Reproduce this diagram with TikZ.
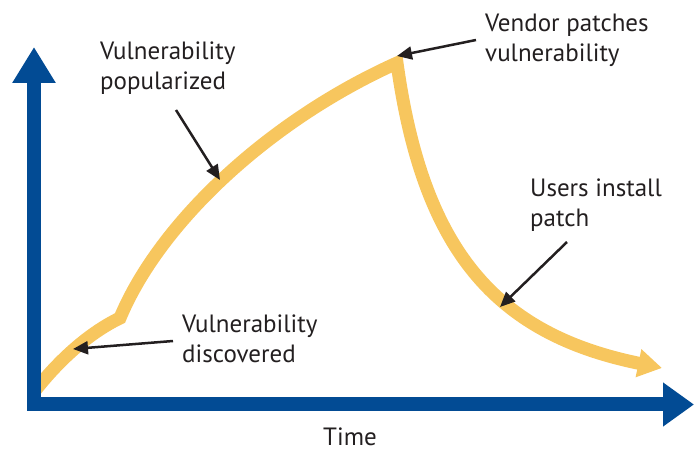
\documentclass[tikz,border=0pt]{standalone}
\usepackage{fontspec}
\setmainfont{PT Sans}
\usetikzlibrary{arrows.meta}
\definecolor{axisblue}{RGB}{2,75,148}
\definecolor{curveyellow}{RGB}{247,198,94}
\definecolor{txt}{RGB}{35,31,32}
\begin{document}
\begin{tikzpicture}[x=1pt,y=-1pt,
 lbl/.style={font=\fontsize{25}{30}\selectfont, text=txt, align=left, anchor=base west, inner sep=0pt},
 pointer/.style={draw=txt, line width=2.5pt, -{Triangle[length=15pt,width=13pt]}},
 axis/.style={draw=axisblue, line width=14pt, line join=miter, {Triangle[length=36pt,width=41pt]}-{Triangle[length=31pt,width=42pt]}},
 trend/.style={draw=curveyellow, line width=13pt, line join=miter, -{Triangle[length=24pt,width=27pt]}}]
\useasboundingbox (0,0) rectangle (694,454);

% trend curve
\coordinate (c0) at (34,392);
\coordinate (kink) at (120,318);
\coordinate (peak) at (397,63);
\coordinate (cend) at (662,368);
\draw[trend] (c0) .. controls (55,365) and (85,335) .. (kink)
  .. controls (160,222) and (270,120) .. (peak)
  .. controls (423,250) and (495,334) .. (cend);

% axes
\coordinate (ytop) at (34,47);
\coordinate (origin) at (34,404.5);
\coordinate (xend) at (694,404.5);
\draw[axis] (ytop) -- (origin) -- (xend);

% labels (base anchor = baseline of the last line)
\node[lbl] (pop) at (100,90) {Vulnerability\\popularized};
\node[lbl] (disc) at (182,363) {Vulnerability\\discovered};
\node[lbl] (vend) at (485,62) {Vendor patches\\vulnerability};
\node[lbl] (users) at (530,227) {Users install\\patch};
\node[font=\fontsize{25}{30}\selectfont, text=txt, anchor=base, inner sep=0pt] (time) at (350,446) {Time};

% pointers
\coordinate (popS) at (176,110);
\coordinate (popT) at (220,180);
\coordinate (discS) at (173,341);
\coordinate (discT) at (73,349);
\coordinate (vendS) at (476,40);
\coordinate (vendT) at (397,56);
\coordinate (usersS) at (567,242);
\coordinate (usersT) at (500,307);
\draw[pointer] (popS) -- (popT);
\draw[pointer] (discS) -- (discT);
\draw[pointer] (vendS) -- (vendT);
\draw[pointer] (usersS) -- (usersT);
\end{tikzpicture}
\end{document}
